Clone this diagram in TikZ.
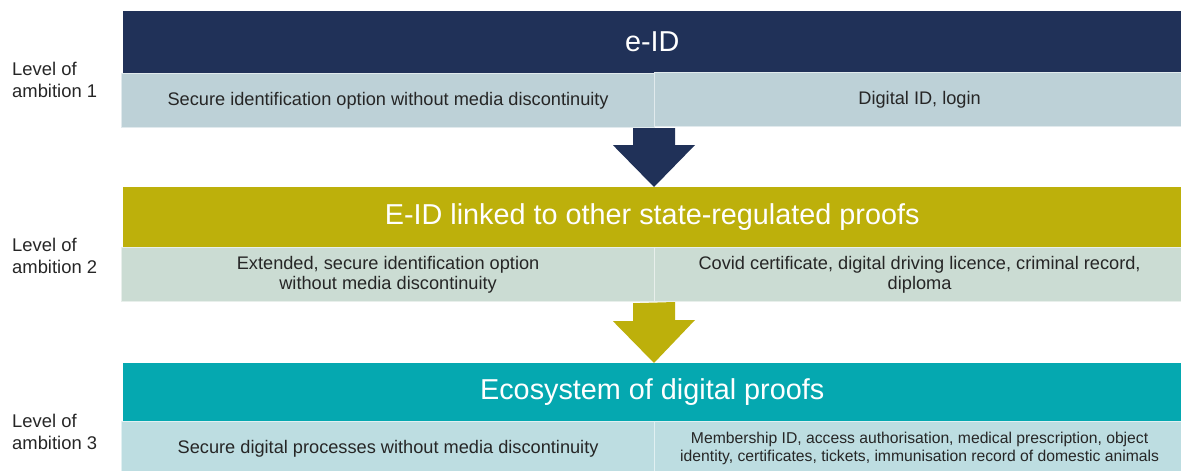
\documentclass[tikz,border=0pt]{standalone}
\usepackage{fontspec}
\setmainfont{Liberation Sans}
\usetikzlibrary{positioning,calc}

\definecolor{navyhead}{HTML}{203158}
\definecolor{olivehead}{HTML}{BDB00B}
\definecolor{tealhead}{HTML}{05A8B0}
\definecolor{rowone}{HTML}{BDD1D7}
\definecolor{rowtwo}{HTML}{CBDCD3}
\definecolor{rowthree}{HTML}{BDDDE1}

\tikzset{
  head/.style={anchor=north west,minimum width=1058pt,minimum height=62pt,inner sep=0pt,
    text=white,font=\fontsize{28.8}{32}\selectfont},
  cell/.style={anchor=north west,minimum height=54pt,inner sep=0pt,align=center,
    draw=white!55!#1,line width=1.2pt,fill=#1,text=black!85,font=\fontsize{18.2}{19.5}\selectfont},
  level/.style={anchor=west,align=left,inner sep=0pt,text=black!85,font=\fontsize{18.4}{22}\selectfont},
}

\begin{document}
\begin{tikzpicture}[x=1pt,y=-1pt]
\useasboundingbox (0,0) rectangle (1181,471);

% level 1
\node[head,fill=navyhead] (h1) at (123,11) {e-ID};
\node[cell=rowone,minimum width=533pt] (r1l) at (121,73) {Secure identification option without media discontinuity};
\node[cell=rowone,minimum width=530pt] (r1r) at (654,72) {Digital ID, login};
\node[level] (l1) at (12,80) {Level of\\ambition 1};

% level 2
\node[head,fill=olivehead,minimum height=60pt] (h2) at (123,187) {E-ID linked to other state-regulated proofs};
\node[cell=rowtwo,minimum width=533pt] (r2l) at (121,247) {Extended, secure identification option\\without media discontinuity};
\node[cell=rowtwo,minimum width=530pt] (r2r) at (654,247) {Covid certificate, digital driving licence, criminal record,\\diploma};
\node[level] (l2) at (12,256) {Level of\\ambition 2};

% level 3
\node[head,fill=tealhead,minimum height=58pt] (h3) at (123,363) {Ecosystem of digital proofs};
\node[cell=rowthree,minimum width=533pt] (r3l) at (121,421) {Secure digital processes without media discontinuity};
\node[cell=rowthree,minimum width=530pt,font=\fontsize{15.7}{18}\selectfont] (r3r) at (654,421) {Membership ID, access authorisation, medical prescription, object\\identity, certificates, tickets, immunisation record of domestic animals};
\node[level] (l3) at (12,432) {Level of\\ambition 3};

% block arrows between the levels
\coordinate (t1) at (r1r.south west |- h2.north);
\coordinate (t2) at (r2r.south west |- h3.north);
\fill[navyhead] ($(r1r.south west)+(-21,1)$) -- ++(0,17) -- ++(-20,0) -- (t1) -- ++(41,-42) -- ++(-20,0) -- ++(0,-17) -- cycle;
\fill[olivehead] ($(r2r.south west)+(-21,1)$) -- ++(0,18) -- ++(-20,0) -- (t2) -- ++(41,-43) -- ++(-20,0) -- ++(0,-18) -- cycle;
\end{tikzpicture}
\end{document}
